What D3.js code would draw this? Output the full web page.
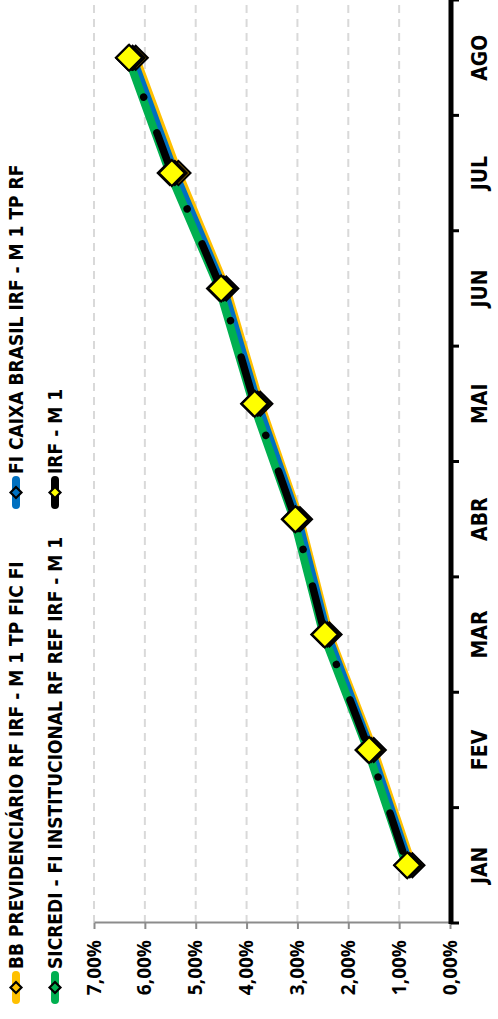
<!DOCTYPE html>
<html><head><meta charset="utf-8">
<script src="https://cdn.jsdelivr.net/npm/d3@7"></script>
<style>
html,body{margin:0;padding:0;background:#fff;}
svg{display:block;}
.cond{font-family:"Liberation Sans Narrow","DejaVu Sans Condensed","Roboto Condensed",sans-serif;font-weight:bold;}
.pct{font-family:"Open Sans","Lato",sans-serif;font-weight:bold;}
</style></head>
<body>
<script>
const months = ["JAN","FEV","MAR","ABR","MAI","JUN","JUL","AGO"];
const bbPrev   = [0.74, 1.50, 2.37, 2.95, 3.73, 4.40, 5.34, 6.18];
const caixa    = [0.79, 1.55, 2.41, 2.99, 3.78, 4.45, 5.41, 6.24];
const sicredi  = [0.86, 1.62, 2.49, 3.07, 3.87, 4.54, 5.51, 6.33];
const irfM1    = [0.84, 1.59, 2.46, 3.04, 3.84, 4.50, 5.47, 6.31];
const yTicks   = [0, 1, 2, 3, 4, 5, 6, 7];
const seriesNames = ["BB PREVIDENCIÁRIO RF IRF - M 1 TP FIC FI", "FI CAIXA BRASIL IRF - M 1 TP RF",
                     "SICREDI - FI INSTITUCIONAL RF REF IRF - M 1", "IRF - M 1"];
const seriesColors = ["#FFC000", "#0070C0", "#00B050", "#000000"];

const W = 1019, H = 498;
const svg = d3.select("body").append("svg").attr("width", 498).attr("height", 1019);
const g = svg.append("g").attr("transform", `translate(0,${W}) rotate(-90)`);

const x = d3.scaleBand().domain(months).range([96, 1019]);
const y = d3.scaleLinear().domain([0, 7]).range([450, 94]);
const cx = m => x(m) + x.bandwidth() / 2;

// gridlines
g.append("g").selectAll("line").data(yTicks.filter(t => t > 0)).join("line")
  .attr("x1", 96).attr("x2", 1019).attr("y1", d => y(d)).attr("y2", d => y(d))
  .attr("stroke", "#d9d9d9").attr("stroke-width", 2).attr("stroke-dasharray", "8,6");

// value axis
const fmt = d => d.toFixed(2).replace(".", ",") + "%";
const ay = g.append("g").attr("transform", "translate(96,0)")
  .call(d3.axisLeft(y).tickValues(yTicks).tickSizeInner(6).tickSizeOuter(0).tickPadding(11).tickFormat(fmt));
ay.select(".domain").attr("stroke", "#8c8c8c").attr("stroke-width", 2);
ay.selectAll(".tick line").attr("stroke", "#8c8c8c").attr("stroke-width", 2);
ay.selectAll("text").attr("class", "pct").attr("font-size", 19).attr("fill", "#000");

// category axis
const ax = g.append("g").attr("transform", "translate(0,451)")
  .call(d3.axisBottom(x).tickSize(0).tickPadding(0));
ax.select(".domain").remove();
ax.selectAll("text").attr("class", "cond").attr("font-size", 21).attr("fill", "#000")
  .attr("y", 29).attr("dy", "0.35em");
const bounds = months.map(m => x(m)).concat([x.range()[1]]);
ax.append("g").selectAll("line").data(bounds).join("line")
  .attr("x1", d => d).attr("x2", d => d).attr("y1", 0).attr("y2", 8)
  .attr("stroke", "#000").attr("stroke-width", 3);
ax.append("line").attr("x1", x.range()[0] - 1).attr("x2", x.range()[1]).attr("y1", 0).attr("y2", 0)
  .attr("stroke", "#000").attr("stroke-width", 5);

// lines
const line = d3.line().x((d, i) => cx(months[i])).y(d => y(d));
const data = [bbPrev, caixa, sicredi, irfM1];
function diam(sel, cxv, cyv, r, fill) {
  sel.append("path")
    .attr("d", `M${cxv},${cyv - r}L${cxv + r},${cyv}L${cxv},${cyv + r}L${cxv - r},${cyv}Z`)
    .attr("fill", fill).attr("stroke", "#000").attr("stroke-width", 2.2).attr("stroke-linejoin", "miter");
}
[0, 1, 2].forEach(k => {
  g.append("path").datum(data[k]).attr("d", line).attr("fill", "none")
    .attr("stroke", seriesColors[k]).attr("stroke-width", 8).attr("stroke-linejoin", "round").attr("stroke-linecap", "round");
});
[0, 1, 2].forEach(k => {
  const mg = g.append("g");
  data[k].forEach((v, i) => diam(mg, cx(months[i]), y(v), 12, seriesColors[k]));
});
g.append("path").datum(irfM1).attr("d", line).attr("fill", "none")
  .attr("stroke", "#000").attr("stroke-width", 7.5).attr("stroke-linecap", "round").attr("stroke-linejoin", "round")
  .attr("stroke-dasharray", "40,38,0.01,32,0.01,10").attr("stroke-dashoffset", 105);
const mk = g.append("g");
irfM1.forEach((v, i) => diam(mk, cx(months[i]), y(v), 13, "#FFFF00"));

// legend
const legX = [19, 514], legY = [16, 55];
seriesNames.forEach((name, k) => {
  const lx = legX[k % 2], ly = legY[Math.floor(k / 2)];
  const lg = g.append("g");
  lg.append("line").attr("x1", lx).attr("x2", lx + 25).attr("y1", ly).attr("y2", ly)
    .attr("stroke", seriesColors[k]).attr("stroke-width", 8).attr("stroke-linecap", "round");
  diam(lg, lx + 12.5, ly, 5.5, k === 3 ? "#FFFF00" : seriesColors[k]);
  lg.append("text").attr("class", "cond").attr("x", lx + 31).attr("y", ly).attr("dy", "0.36em")
    .attr("font-size", 19).attr("fill", "#000").text(name);
});
</script>
</body></html>
